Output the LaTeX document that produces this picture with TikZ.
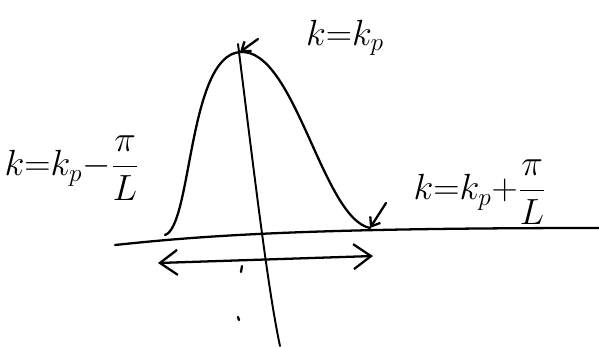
\documentclass[tikz,border=0pt]{standalone}
\usetikzlibrary{arrows.meta, positioning, calc}
\tikzset{
  trazo/.style={draw=black, line width=1.3pt, line cap=round, line join=round},
  flechaDoble/.style={trazo, {Straight Barb[length=3.5mm, width=5mm]}-{Straight Barb[length=3.5mm, width=5mm]}},
  flechita/.style={trazo, -{Straight Barb[length=1.6mm, width=2.4mm]}},
  etiqueta/.style={font=\fontsize{20}{24}\selectfont, inner sep=1pt},
}
\begin{document}
\begin{tikzpicture}[x=0.02cm, y=-0.02cm]
    \useasboundingbox[fill=white] (0,0) rectangle (599,346);
    % puntos de la curva
    \coordinate (izq) at (165,235);
    \coordinate (pico) at (240,52);
    \coordinate (der) at (370,228);
    \coordinate (ejeA) at (115,245);
    \coordinate (ejeB) at (599,228);
    \coordinate (vertA) at (238,44);
    \coordinate (vertB) at (280,346);
    \coordinate (rangoA) at (158,263);
    \coordinate (rangoB) at (373,256);
    % etiquetas
    \node[etiqueta] (lblPico) at (345,38) {$k{=}k_p$};
    \node[etiqueta] (lblIzq) at (72,168) {$k{=}k_p{-}\displaystyle\frac{\pi}{L}$};
    \node[etiqueta] (lblDer) at (480,192) {$k{=}k_p{+}\displaystyle\frac{\pi}{L}$};
    % eje y curva
    \draw[trazo] (ejeA) .. controls (200,236) and (300,228) .. (ejeB);
    \draw[trazo] (izq) .. controls (192,226) and (188,56) .. (pico)
                 .. controls (295,48) and (322,218) .. (der);
    \draw[trazo, line width=1.1pt] (vertA) .. controls (255,180) and (268,290) .. (vertB);
    \draw[flechaDoble] (rangoA) -- (rangoB);
    % marcas
    \draw[flechita] (258,39) -- (pico);
    \draw[flechita] (386,203) -- (der);
    \draw[trazo] (242,266) -- (241,272);
    \draw[trazo] (238,317) -- (239,320);
\end{tikzpicture}
\end{document}
